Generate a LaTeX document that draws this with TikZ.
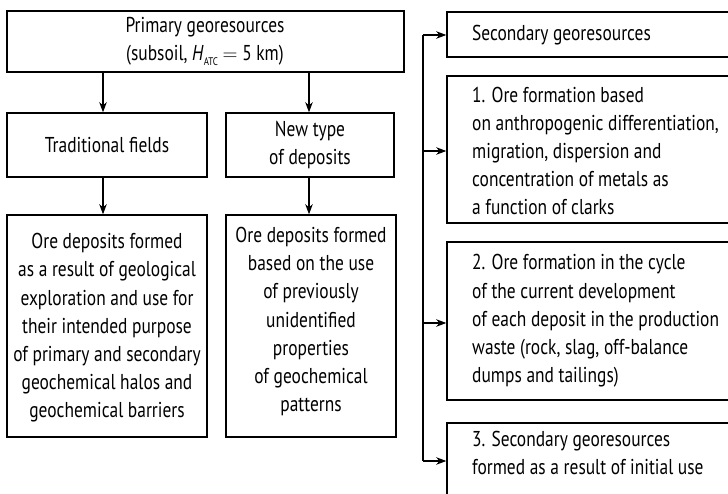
\documentclass[tikz,border=0pt]{standalone}
\usepackage{fontspec}
\setmainfont[FakeStretch=0.81]{PT Sans}
\usetikzlibrary{arrows.meta}
\begin{document}
\begin{tikzpicture}[x=1pt,y=-1pt,
  box/.style={draw, line width=1.5pt, inner sep=0pt},
  txt/.style={inner sep=0pt, font=\fontsize{21.5}{28.2}\selectfont},
  ctxt/.style={txt, align=center},
  ltxt/.style={txt, align=left, anchor=west},
  arr/.style={line width=1.1pt, -{Stealth[length=10pt,width=7.5pt,inset=3pt]}},
  bus/.style={line width=1.1pt}]
\clip (0,0) rectangle (728,494);
% left column boxes
\node[box, minimum width=397pt, minimum height=61pt] (top) at (205.5,41.5) {};
\node[box, minimum width=200pt, minimum height=64pt] (trad) at (107,145) {};
\node[box, minimum width=168pt, minimum height=64pt] (newt) at (310,145) {};
\node[box, minimum width=200pt, minimum height=222pt] (ore1) at (107,326) {};
\node[box, minimum width=170pt, minimum height=222pt] (ore2) at (311,326) {};
% right column boxes
\node[box, minimum width=300pt, minimum height=45pt] (sec) at (597,34.5) {};
\node[box, minimum width=300pt, minimum height=147pt] (r1) at (597,149.5) {};
\node[box, minimum width=300pt, minimum height=158pt] (r2) at (597,321) {};
\node[box, minimum width=300pt, minimum height=100pt] (r3) at (597,473) {};
% texts
\node[ctxt] (ttop) at (205,41) {Primary georesources\\(subsoil, \textit{H}\raisebox{-0.45ex}{\fontsize{11}{11}\selectfont ATC}\ $=$ 5 km)};
\node[ctxt] (ttrad) at (107,145) {Traditional fields};
\node[ctxt] (tnewt) at (310,145) {New type\\of deposits};
\node[ctxt] (tore1) at (107,328) {Ore deposits formed\\as a result of geological\\exploration and use for\\their intended purpose\\of primary and secondary\\geochemical halos and\\geochemical barriers};
\node[ctxt] (tore2) at (311,321.5) {Ore deposits formed\\based on the use\\of previously\\unidentified\\properties\\of geochemical\\patterns};
\node[ltxt] (tsec) at (472,35) {Secondary georesources};
\node[ltxt] (tr1) at (472,151) {1. Ore formation based\\on anthropogenic differentiation,\\migration, dispersion and\\concentration of metals as\\a function of clarks};
\node[ltxt] (tr2) at (472,321) {2. Ore formation in the cycle\\of the current development\\of each deposit in the production\\waste (rock, slag, off-balance\\dumps and tailings)};
\node[ltxt, anchor=north west] (tr3) at (472,431) {3. Secondary georesources\\formed as a result of initial use};
% connectors left
\draw[arr] (top.south -| 103,0) -- (trad.north -| 103,0);
\draw[arr] (top.south -| 309,0) -- (newt.north -| 309,0);
\draw[arr] (trad.south -| 103,0) -- (ore1.north -| 103,0);
\draw[arr] (newt.south -| 309,0) -- (ore2.north -| 309,0);
% bus on right
\coordinate (bt) at (423,35);
\coordinate (bb) at (423,461);
\draw[bus] (bt) -- (bb);
\draw[arr] (bt) -- (bt -| sec.west);
\draw[arr] (423,151) -- (r1.west |- 0,151);
\draw[arr] (423,323) -- (r2.west |- 0,323);
\draw[arr] (bb) -- (bb -| r3.west);
\end{tikzpicture}
\end{document}
